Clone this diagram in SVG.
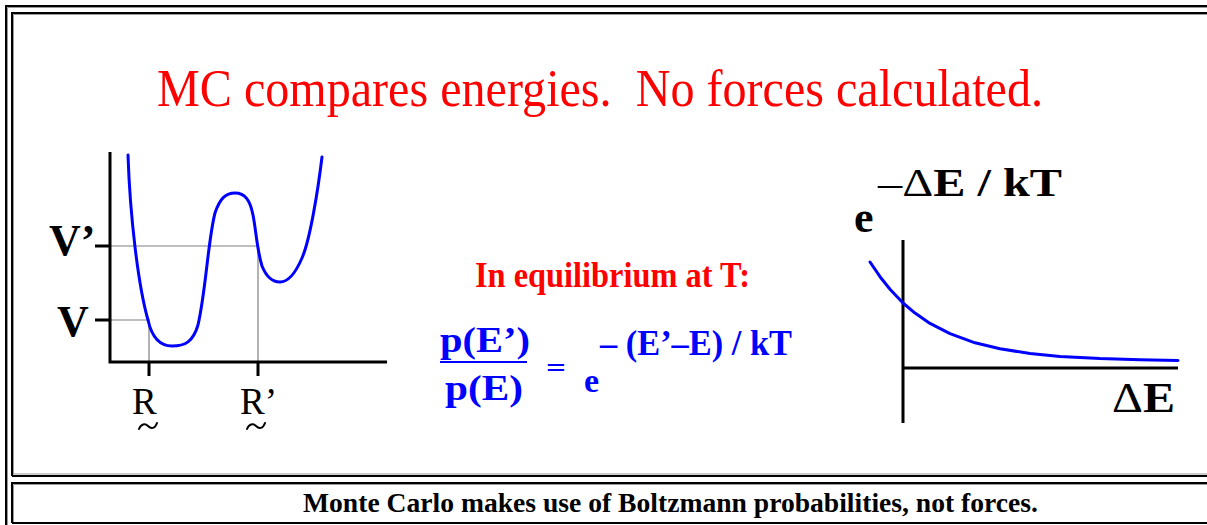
<svg xmlns="http://www.w3.org/2000/svg" width="1207" height="525" viewBox="0 0 1207 525">
<style>
.frame{fill:none;stroke:#000;stroke-width:2}
.frameg{fill:none;stroke:#999;stroke-width:1}
.axis{fill:none;stroke:#000;stroke-width:3}
.guide{fill:none;stroke:#808080;stroke-width:1.2}
.curve{fill:none;stroke:#0000ff;stroke-width:3;stroke-linejoin:round;stroke-linecap:round}
.tilde{fill:none;stroke:#000;stroke-width:2;stroke-linecap:round}
.serif{font-family:"Liberation Serif","Times New Roman",serif}
.sans{font-family:"Liberation Sans",Arial,sans-serif}
.red{fill:#ff0000}
.blue{fill:#0000ff}
.pre{white-space:pre}
</style>
<rect width="1207" height="525" fill="#fff"/>
<g id="frame">
<path class="frame" d="M6,525 V6 H1207"/>
<path class="frameg" d="M7.5,525 V7.5 H1207"/>
<path class="frame" d="M12,476 V13 H1207"/>
<path class="frameg" d="M13.5,474.5 V14.5 H1207"/>
<path class="frame" d="M12,476 H1207"/>
<path class="frameg" d="M13,474 H1207"/>
<path class="frame" d="M12,523 V483 H1207"/>
<path class="frameg" d="M13.5,523 V484.5 H1207"/>
<path class="frame" d="M12,523 H1207"/>
</g>
<g id="title">
<text class="serif red pre" xml:space="preserve" x="157" y="106" font-size="53" textLength="886" lengthAdjust="spacingAndGlyphs">MC compares energies.  No forces calculated.</text>
</g>
<g id="potential-plot">
<path class="guide" d="M110,246 H258 V362 M110,320 H149 V362"/>
<path class="axis" d="M110,152 V362 H387"/>
<path class="axis" d="M95,246 H110 M95,320 H110 M149,362 V376 M258,362 V376"/>
<path class="curve" d="M128,155 C130,215 138,285 148,320 C152,338 160,346 172,346 C185,346 193,342 198,325 C206,290 208,240 215,213 C220,198 226,193 235,193 C245,193 250,200 253,215 C256,230 257,250 262,266 C266,276 272,282 280,282 C288,282 296,272 302,258 C310,240 318,190 322,157"/>
<text class="serif" x="49" y="255" font-size="44" font-weight="bold">V’</text>
<text class="serif" x="57" y="336" font-size="44" font-weight="bold">V</text>
<text class="serif" x="132" y="414" font-size="37">R</text>
<path class="tilde" d="M139,429 C141,424 145,423 148,426 C151,429 155,429 157,423"/>
<text class="serif" x="240" y="414" font-size="37">R’</text>
<path class="tilde" d="M247,429 C249,424 253,423 256,426 C259,429 263,429 265,423"/>
</g>
<g id="equation">
<text class="serif red" x="475" y="287" font-size="35" font-weight="bold" textLength="275" lengthAdjust="spacingAndGlyphs">In equilibrium at T:</text>
<text class="serif blue" x="440" y="352" font-size="36" font-weight="bold" textLength="90" lengthAdjust="spacingAndGlyphs">p(E’)</text>
<line x1="440" y1="362" x2="527" y2="362" stroke="#0000ff" stroke-width="2"/>
<text class="serif blue" x="445" y="400" font-size="36" font-weight="bold" textLength="78" lengthAdjust="spacingAndGlyphs">p(E)</text>
<text class="serif blue" x="546" y="377" font-size="28" font-weight="bold" textLength="20" lengthAdjust="spacingAndGlyphs">=</text>
<text class="serif blue" x="584" y="392" font-size="34" font-weight="bold">e</text>
<text class="serif blue pre" xml:space="preserve" x="600" y="355" font-size="35" font-weight="bold" textLength="192" lengthAdjust="spacingAndGlyphs">– (E’–E) / kT</text>
</g>
<g id="boltzmann-plot">
<path class="axis" d="M903,240 V423 M903,368 H1178"/>
<polyline class="curve" points="870,262 880,276.7 890,289.3 903,303 915,313.1 930,323.4 950,333.7 975,342.8 1000,348.8 1030,353.5 1060,356.4 1100,358.6 1140,359.7 1178,360.5"/>
<text class="serif" x="854" y="232" font-size="44" font-weight="bold">e</text>
<text class="serif" x="878" y="196" font-size="40" textLength="184" lengthAdjust="spacingAndGlyphs"><tspan>–Δ</tspan><tspan font-weight="bold">E / kT</tspan></text>
<text class="serif" x="1112" y="412" font-size="42" textLength="63" lengthAdjust="spacingAndGlyphs"><tspan>Δ</tspan><tspan font-weight="bold">E</tspan></text>
</g>
<g id="caption">
<text class="serif" x="303" y="512" font-size="28" font-weight="bold" textLength="735" lengthAdjust="spacingAndGlyphs">Monte Carlo makes use of Boltzmann probabilities, not forces.</text>
</g>
</svg>
